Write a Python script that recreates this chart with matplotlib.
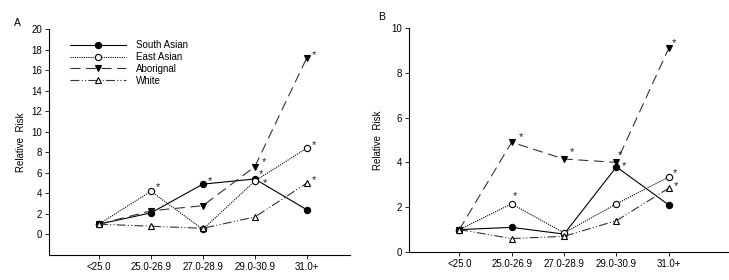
import matplotlib
matplotlib.use("Agg")
import matplotlib.pyplot as plt
import numpy as np

plt.rcParams['font.family'] = ['Liberation Sans', 'DejaVu Sans']
plt.rcParams['font.size'] = 7

# BMI categories
categories = ['<25.0', '25.0-26.9', '27.0-28.9', '29.0-30.9', '31.0+']

# Panel A relative risks
a_south_asian = [1.0, 2.1, 4.9, 5.4, 2.4]
a_east_asian = [1.0, 4.2, 0.5, 5.2, 8.4]
a_aboriginal = [1.0, 2.3, 2.8, 6.6, 17.2]
a_white = [1.0, 0.8, 0.6, 1.7, 5.0]

# Panel B relative risks
b_south_asian = [1.0, 1.1, 0.8, 3.8, 2.1]
b_east_asian = [1.0, 2.15, 0.85, 2.15, 3.35]
b_aboriginal = [1.0, 4.9, 4.15, 4.0, 9.1]
b_white = [1.0, 0.6, 0.7, 1.4, 2.85]

# significance stars: (series, category index, dx px, dy px)
a_stars = [('sa', 2, 7, 3), ('ea', 1, 7, 4), ('ab', 3, 9, 5), ('sa', 3, 6, 5),
           ('ea', 3, 10, -2), ('ab', 4, 7, 3), ('ea', 4, 7, 3), ('wh', 4, 7, 3)]
b_stars = [('ab', 1, 9, 5), ('ab', 2, 8, 7), ('ab', 3, 4, 7), ('sa', 3, 8, 1),
           ('ea', 1, 3, 8), ('ea', 4, 6, 4), ('wh', 4, 7, 2), ('ab', 4, 5, 5)]

styles = {
    'sa': dict(color='black', linestyle='-', marker='o', mfc='black', label='South Asian'),
    'ea': dict(color='black', linestyle=(0, (1, 1)), marker='o', mfc='white', label='East Asian'),
    'ab': dict(color='#333333', linestyle=(0, (9, 5)), marker='v', mfc='black', mec='black', label='Aborignal'),
    'wh': dict(color='#333333', linestyle=(0, (8, 2, 1, 2, 1, 2)), marker='^', mfc='white', mec='black', label='White'),
}

fig = plt.figure(figsize=(7.29, 2.8), dpi=100)
axA = fig.add_axes([49/729, 1-255/280, (350-49)/729, (255-29)/280])
axB = fig.add_axes([409/729, 1-252/280, (728-409)/729, (252-28)/280])

x = np.arange(len(categories))


def draw(ax, data, stars):
    for key in ['sa', 'ea', 'ab', 'wh']:
        ax.plot(x, data[key], linewidth=0.8, markersize=4.5, markeredgewidth=0.8, **styles[key])
    for key, i, dx, dy in stars:
        ax.annotate('*', (x[i], data[key][i]), xytext=(dx*0.72, dy*0.72),
                    textcoords='offset points', ha='center', va='center', fontsize=8, color='#222222')
    ax.set_xticks(x)
    ax.set_xticklabels(categories)
    ax.spines['top'].set_visible(False)
    ax.spines['right'].set_visible(False)
    ax.spines['left'].set_linewidth(0.8)
    ax.spines['bottom'].set_linewidth(0.8)
    ax.tick_params(direction='out', length=3, width=0.6, pad=2)
    ax.set_ylabel('Relative  Risk', labelpad=4)


draw(axA, {'sa': a_south_asian, 'ea': a_east_asian, 'ab': a_aboriginal, 'wh': a_white}, a_stars)
axA.set_xlim(-0.96, 4.83)
axA.set_ylim(-2, 20)
axA.set_yticks(np.arange(0, 21, 2))
axA.legend(loc='upper left', bbox_to_anchor=(0.04, 0.99), frameon=False, handlelength=5.8,
           handletextpad=1.0, labelspacing=0.2, fontsize=7)
fig.text(14/729, 1-23/280, 'A', ha='left', va='center', fontsize=7.5)

draw(axB, {'sa': b_south_asian, 'ea': b_east_asian, 'ab': b_aboriginal, 'wh': b_white}, b_stars)
axB.set_xlim(-0.96, 5.13)
axB.set_ylim(0, 10)
axB.set_yticks(np.arange(0, 11, 2))
axB.yaxis.set_label_coords(-0.083, 0.5)
fig.text(378/729, 1-17/280, 'B', ha='left', va='center', fontsize=7.5)

fig.savefig('out.png', dpi=100)
